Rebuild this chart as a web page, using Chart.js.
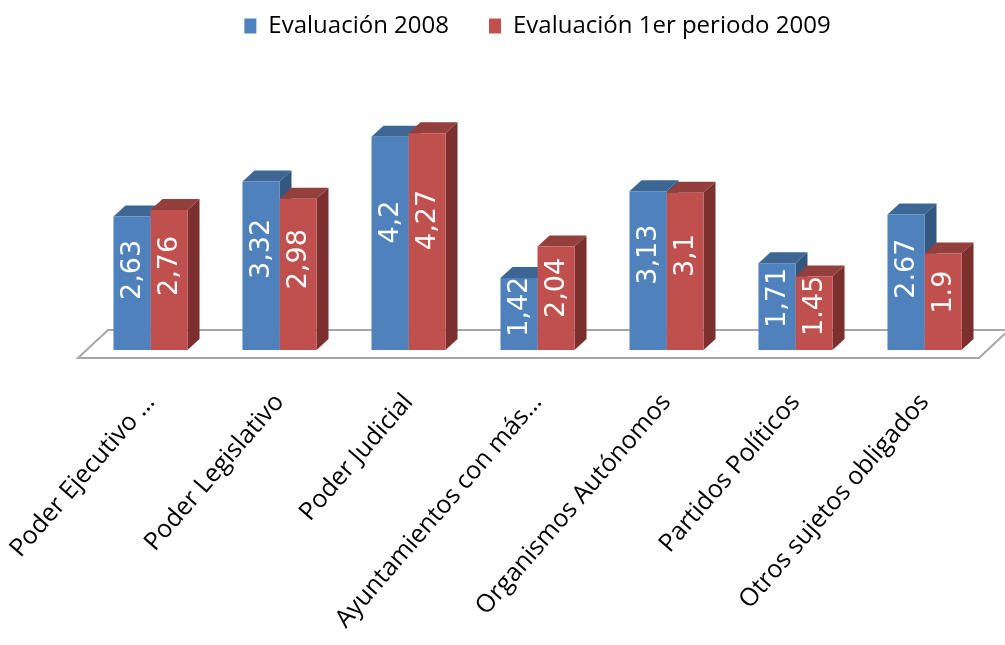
<!DOCTYPE html>
<html>
<head>
<meta charset="utf-8">
<script src="https://cdn.jsdelivr.net/npm/chart.js@4"></script>
<style>
  html, body { margin: 0; padding: 0; background: #fff; }
  #wrap { width: 1005px; height: 645px; }
</style>
</head>
<body>
<div id="wrap"><canvas id="chart"></canvas></div>
<script>
// categorías y valores
const categories = [
    "Poder Ejecutivo …",
    "Poder Legislativo",
    "Poder Judicial",
    "Ayuntamientos con más…",
    "Organismos Autónomos",
    "Partidos Políticos",
    "Otros sujetos obligados"
];
const seriesNames = ["Evaluación 2008", "Evaluación 1er periodo 2009"];
const values2008 = [2.63, 3.32, 4.2, 1.42, 3.13, 1.71, 2.67];
const values2009 = [2.76, 2.98, 4.27, 2.04, 3.1, 1.45, 1.9];
// etiquetas tal como aparecen (mezcla de coma y punto)
const labels2008 = ["2,63", "3,32", "4,2", "1,42", "3,13", "1,71", "2.67"];
const labels2009 = ["2,76", "2,98", "4,27", "2,04", "3,1", "1.45", "1.9"];

const colors = [
    { front: "#4f81bd", top: "#3e6695", side: "#34577f" },
    { front: "#c0504d", top: "#93403d", side: "#7b302e" }
];
const DX = 12, DY = 11;

// piso y caras 3D (antes de las barras)
const fake3d = {
    id: "fake3d",
    beforeDatasetsDraw(chart) {
        const ctx = chart.ctx;
        const a = chart.chartArea;
        ctx.save();
        ctx.beginPath();
        ctx.moveTo(a.left - 8, a.bottom + 8);
        ctx.lineTo(a.right - 10, a.bottom + 8);
        ctx.lineTo(a.right + 20, a.bottom - 20);
        ctx.lineTo(a.left + 22, a.bottom - 20);
        ctx.closePath();
        ctx.fillStyle = "#ffffff";
        ctx.fill();
        ctx.lineWidth = 2;
        ctx.strokeStyle = "#a6a6a6";
        ctx.stroke();

        chart.data.datasets.forEach((ds, di) => {
            const meta = chart.getDatasetMeta(di);
            meta.data.forEach(bar => {
                const l = bar.x - bar.width / 2, r = bar.x + bar.width / 2;
                const t = bar.y, b = bar.base;
                // cara superior
                ctx.beginPath();
                ctx.moveTo(l, t);
                ctx.lineTo(l + DX, t - DY);
                ctx.lineTo(r + DX, t - DY);
                ctx.lineTo(r, t);
                ctx.closePath();
                ctx.fillStyle = colors[di].top;
                ctx.fill();
                // cara lateral
                ctx.beginPath();
                ctx.moveTo(r, t);
                ctx.lineTo(r + DX, t - DY);
                ctx.lineTo(r + DX, b - DY);
                ctx.lineTo(r, b);
                ctx.closePath();
                ctx.fillStyle = colors[di].side;
                ctx.fill();
            });
        });
        ctx.restore();
    },
    afterDatasetsDraw(chart) {
        const ctx = chart.ctx;
        const texts = [labels2008, labels2009];
        ctx.save();
        ctx.fillStyle = "#ffffff";
        ctx.font = "27px 'DejaVu Sans'";
        ctx.textAlign = "center";
        ctx.textBaseline = "middle";
        chart.data.datasets.forEach((ds, di) => {
            const meta = chart.getDatasetMeta(di);
            meta.data.forEach((bar, i) => {
                const h = bar.base - bar.y;
                const cy = bar.y + h / 2 - h * 0.1;
                ctx.save();
                ctx.translate(bar.x, cy);
                ctx.rotate(-Math.PI / 2);
                ctx.fillText(texts[di][i], 0, 1);
                ctx.restore();
            });
        });
        ctx.restore();
    }
};

new Chart(document.getElementById("chart"), {
    type: "bar",
    data: {
        labels: categories,
        datasets: [
            { label: seriesNames[0], data: values2008, backgroundColor: colors[0].front, borderWidth: 0 },
            { label: seriesNames[1], data: values2009, backgroundColor: colors[1].front, borderWidth: 0 }
        ]
    },
    options: {
        responsive: true,
        maintainAspectRatio: false,
        animation: false,
        datasets: { bar: { categoryPercentage: 0.574, barPercentage: 1 } },
        layout: { padding: { left: 86, right: 16, top: -26, bottom: 0 } },
        plugins: {
            tooltip: { enabled: false },
            legend: {
                position: "top",
                labels: {
                    boxWidth: 12,
                    boxHeight: 15,
                    padding: 40,
                    color: "#000",
                    font: { family: "'Open Sans'", size: 24 }
                }
            }
        },
        scales: {
            x: {
                grid: { display: false, drawTicks: false },
                border: { display: false },
                ticks: {
                    color: "#000",
                    font: { family: "'Open Sans'", size: 25 },
                    minRotation: 49,
                    maxRotation: 49,
                    padding: 38,
                    autoSkip: false
                },
                afterFit(scale) {
                    scale.height = 295;
                    scale.paddingLeft = 0;
                    scale.paddingRight = 0;
                }
            },
            y: {
                display: false,
                min: 0,
                max: 5.95
            }
        }
    },
    plugins: [fake3d]
});
</script>
</body>
</html>
